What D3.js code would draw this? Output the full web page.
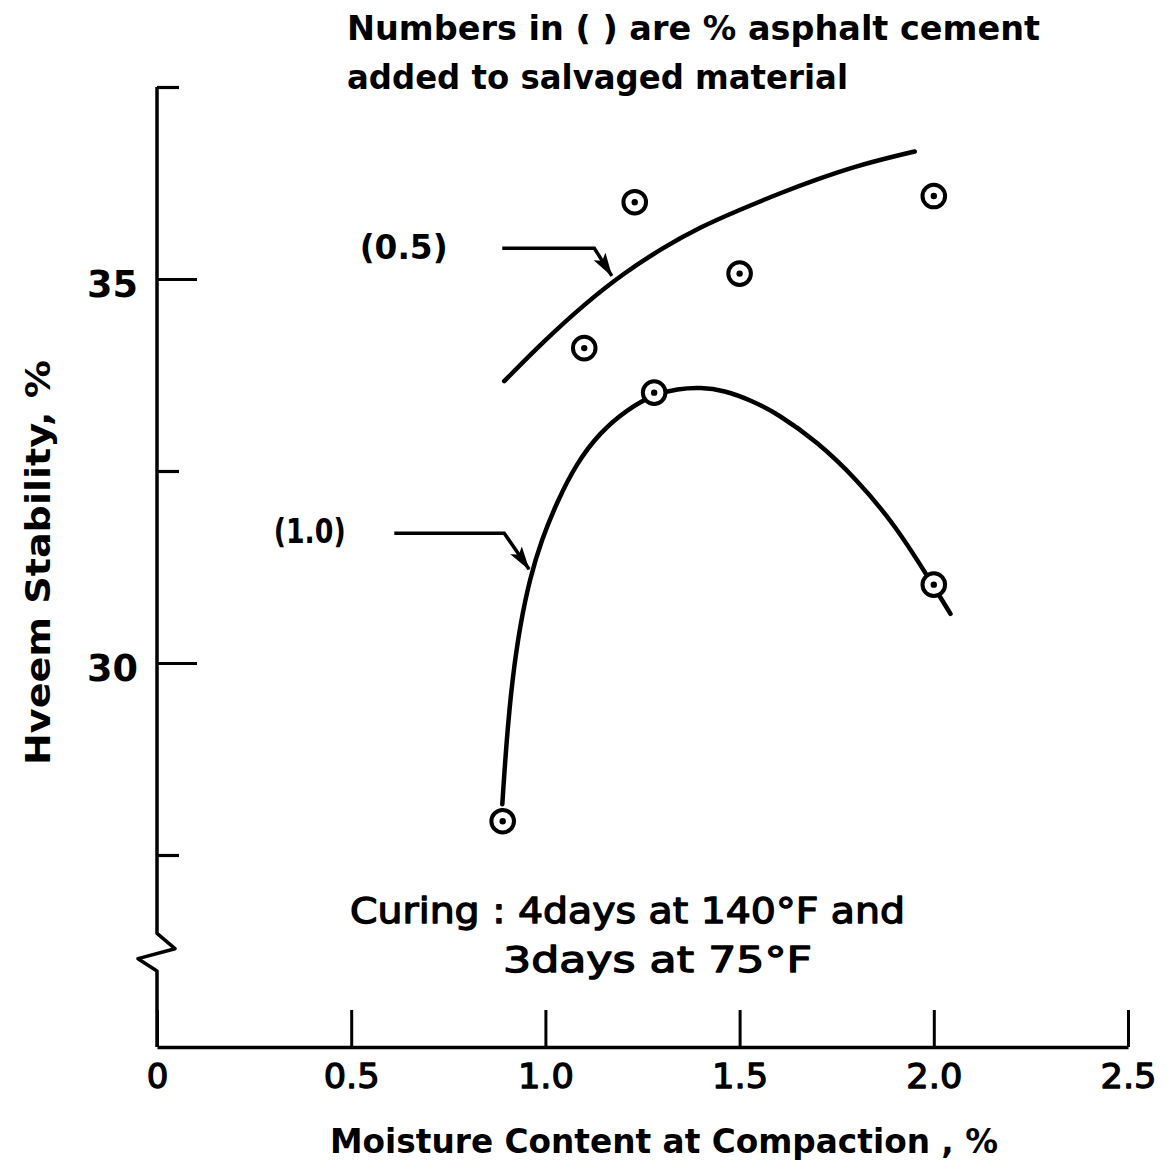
<!DOCTYPE html>
<html>
<head>
<meta charset="utf-8">
<script src="https://cdn.jsdelivr.net/npm/d3@7"></script>
<style>
  html, body { margin: 0; padding: 0; background: #fff; }
  svg { display: block; }
  text { font-family: "DejaVu Sans", "Liberation Sans", sans-serif; font-weight: bold; fill: #000; }
  text.medium { font-weight: normal; stroke: #000; stroke-width: 1.3px; stroke-linejoin: round; }
</style>
</head>
<body>
<script>
// ---- axis ticks ----
const moistureTicks = [0, 0.5, 1.0, 1.5, 2.0, 2.5];
const moistureTickLabels = ["0", "0.5", "1.0", "1.5", "2.0", "2.5"];
const stabilityMajorTicks = [30, 35];
const stabilityMajorLabels = ["30", "35"];
const stabilityMinorTicks = [27.5, 32.5, 37.5];

// ---- measured specimens (moisture %, Hveem stability %) ----
const ac05Moisture  = [1.10, 1.23, 1.50, 2.00];
const ac05Stability = [34.10, 36.00, 35.07, 36.08];
const ac10Moisture  = [0.89, 1.28, 2.00];
const ac10Stability = [27.94, 33.52, 31.02];

// ---- fitted trend curves ----
const ac05CurveMoisture  = [0.894, 1.0, 1.1, 1.2, 1.3, 1.4, 1.5, 1.6, 1.7, 1.8, 1.9, 1.951];
const ac05CurveStability = [33.67, 34.21, 34.67, 35.07, 35.40, 35.68, 35.90, 36.11, 36.30, 36.47, 36.60, 36.66];
const ac10CurveMoisture  = [0.889, 0.900, 0.915, 0.935, 0.960, 0.990, 1.030, 1.080, 1.140, 1.210, 1.280,
                            1.340, 1.400, 1.460, 1.530, 1.600, 1.700, 1.800, 1.900, 1.990, 2.043];
const ac10CurveStability = [28.16, 29.00, 29.80, 30.50, 31.10, 31.60, 32.10, 32.60, 33.00, 33.30, 33.50,
                            33.57, 33.59, 33.55, 33.42, 33.24, 32.88, 32.40, 31.80, 31.08, 30.64];

// ---- curve labels with leader arrows ----
const curveLabels = ["(0.5)", "(1.0)"];
const labelMoisture  = [0.635, 0.393];
const labelStability = [35.26, 31.56];
const leaderStartMoisture  = [0.889, 0.611];
const leaderElbowMoisture  = [1.126, 0.894];
const leaderElbowStability = [35.40, 31.69];
const leaderTipMoisture  = [1.171, 0.958];
const leaderTipStability = [35.04, 31.22];

// ---- text ----
const titleLines = ["Numbers in ( ) are % asphalt cement", "added to salvaged material"];
const curingLines = ["Curing :  4days  at  140\u00B0F  and", "3days  at  75\u00B0F"];
const xTitle = "Moisture  Content at  Compaction , %";
const yTitle = "Hveem  Stability, %";

// axis break on the stability scale
const breakStability = [26.48, 26.28, 26.15, 25.99];

const W = 1167, H = 1166;
const svg = d3.select("body").append("svg").attr("width", W).attr("height", H);

const x = d3.scaleLinear().domain([0, 2.5]).range([157, 1128]);
const y = d3.scaleLinear().domain([25, 37.5]).range([1047, 87]);

function fitText(sel, width) {
  sel.attr("textLength", width).attr("lengthAdjust", "spacingAndGlyphs");
  return sel;
}

// ---- x axis ----
const xAxis = svg.append("g")
  .attr("transform", `translate(0,${y(25)})`)
  .call(d3.axisBottom(x)
    .tickValues(moistureTicks)
    .tickSize(-37)
    .tickSizeOuter(0)
    .tickPadding(17)
    .tickFormat((d, i) => moistureTickLabels[i]));
xAxis.select(".domain").attr("stroke", "#000").attr("stroke-width", 3.5);
xAxis.selectAll(".tick line").attr("stroke", "#000").attr("stroke-width", 3);
xAxis.selectAll(".tick text")
  .attr("class", "medium")
  .style("font-size", "34px")
  .each(function (d, i) {
    const s = d3.select(this);
    if (moistureTickLabels[i].length > 1) fitText(s, 56);
  });

// ---- y axis (major + minor ticks) ----
const yMajor = svg.append("g")
  .attr("transform", `translate(${x(0)},0)`)
  .call(d3.axisLeft(y)
    .tickValues(stabilityMajorTicks)
    .tickSize(-40)
    .tickPadding(19)
    .tickFormat((d, i) => stabilityMajorLabels[i]));
yMajor.select(".domain").remove();
yMajor.selectAll(".tick line").attr("stroke", "#000").attr("stroke-width", 3.2);
yMajor.selectAll(".tick text")
  .attr("dy", "0.45em")
  .style("font-size", "38px")
  .style("font-weight", "bold")
  .each(function () { fitText(d3.select(this), 51); });

const yMinor = svg.append("g")
  .attr("transform", `translate(${x(0)},0)`)
  .call(d3.axisLeft(y).tickValues(stabilityMinorTicks).tickSize(-22).tickFormat(""));
yMinor.select(".domain").remove();
yMinor.selectAll(".tick line").attr("stroke", "#000").attr("stroke-width", 3.2);

// y axis spine with a break near the bottom
const x0 = x(0);
const spine = [
  [x0, y(37.5)],
  [x0, y(breakStability[0])],
  [x0 + 18, y(breakStability[1])],
  [x0 - 19, y(breakStability[2])],
  [x0, y(breakStability[3])],
  [x0, y(25)]
];
svg.append("path")
  .attr("d", d3.line()(spine))
  .attr("fill", "none").attr("stroke", "#000").attr("stroke-width", 3.5)
  .attr("stroke-linejoin", "round");

// ---- trend curves ----
const curve = d3.line()
  .x(d => x(d[0])).y(d => y(d[1]))
  .curve(d3.curveBasis);

function drawCurve(mx, sy) {
  svg.append("path")
    .attr("d", curve(mx.map((m, i) => [m, sy[i]])))
    .attr("fill", "none").attr("stroke", "#000")
    .attr("stroke-width", 4.5).attr("stroke-linecap", "round");
}
drawCurve(ac05CurveMoisture, ac05CurveStability);
drawCurve(ac10CurveMoisture, ac10CurveStability);

// ---- data points: circle with a centre dot ----
function drawPoints(mx, sy) {
  const g = svg.append("g");
  const pts = mx.map((m, i) => [m, sy[i]]);
  g.selectAll("circle.ring").data(pts).join("circle")
    .attr("class", "ring")
    .attr("cx", d => x(d[0])).attr("cy", d => y(d[1]))
    .attr("r", 11.3)
    .attr("fill", "#fff").attr("stroke", "#000").attr("stroke-width", 4);
  g.selectAll("circle.dot").data(pts).join("circle")
    .attr("class", "dot")
    .attr("cx", d => x(d[0])).attr("cy", d => y(d[1]))
    .attr("r", 3.2).attr("fill", "#000");
}
drawPoints(ac05Moisture, ac05Stability);
drawPoints(ac10Moisture, ac10Stability);

// ---- leader arrows and curve labels ----
svg.append("defs").append("marker")
  .attr("id", "arrowhead")
  .attr("viewBox", "0 0 24 16")
  .attr("refX", 23).attr("refY", 8)
  .attr("markerWidth", 24).attr("markerHeight", 16)
  .attr("markerUnits", "userSpaceOnUse")
  .attr("orient", "auto")
  .append("path").attr("d", "M0,1 L24,8 L0,15 L5,8 Z").attr("fill", "#000");

curveLabels.forEach((lab, i) => {
  svg.append("path")
    .attr("d", d3.line()([
      [x(leaderStartMoisture[i]), y(leaderElbowStability[i])],
      [x(leaderElbowMoisture[i]), y(leaderElbowStability[i])],
      [x(leaderTipMoisture[i]), y(leaderTipStability[i])]
    ]))
    .attr("fill", "none").attr("stroke", "#000").attr("stroke-width", 3.5)
    .attr("marker-end", "url(#arrowhead)");
  fitText(svg.append("text")
    .attr("x", x(labelMoisture[i])).attr("y", y(labelStability[i]))
    .attr("text-anchor", "middle")
    .style("font-size", "34px")
    .text(lab), i === 0 ? 88 : 72);
});

// ---- title ----
fitText(svg.append("text").attr("x", 347).attr("y", 40).style("font-size", "34px").text(titleLines[0]), 693);
fitText(svg.append("text").attr("x", 347).attr("y", 89).style("font-size", "34px").text(titleLines[1]), 501);

// ---- curing note ----
fitText(svg.append("text").attr("class", "medium").attr("x", 350).attr("y", 923).style("font-size", "36px").text(curingLines[0]), 555);
fitText(svg.append("text").attr("class", "medium").attr("x", 503).attr("y", 972).style("font-size", "36px").text(curingLines[1]), 309);

// ---- axis titles ----
fitText(svg.append("text")
  .attr("x", (330 + 998) / 2).attr("y", 1153)
  .attr("text-anchor", "middle")
  .style("font-size", "34px")
  .text(xTitle), 668);

fitText(svg.append("text")
  .attr("transform", `translate(50,${(360 + 765) / 2}) rotate(-90)`)
  .attr("text-anchor", "middle")
  .style("font-size", "34px")
  .text(yTitle), 405);
</script>
</body>
</html>
